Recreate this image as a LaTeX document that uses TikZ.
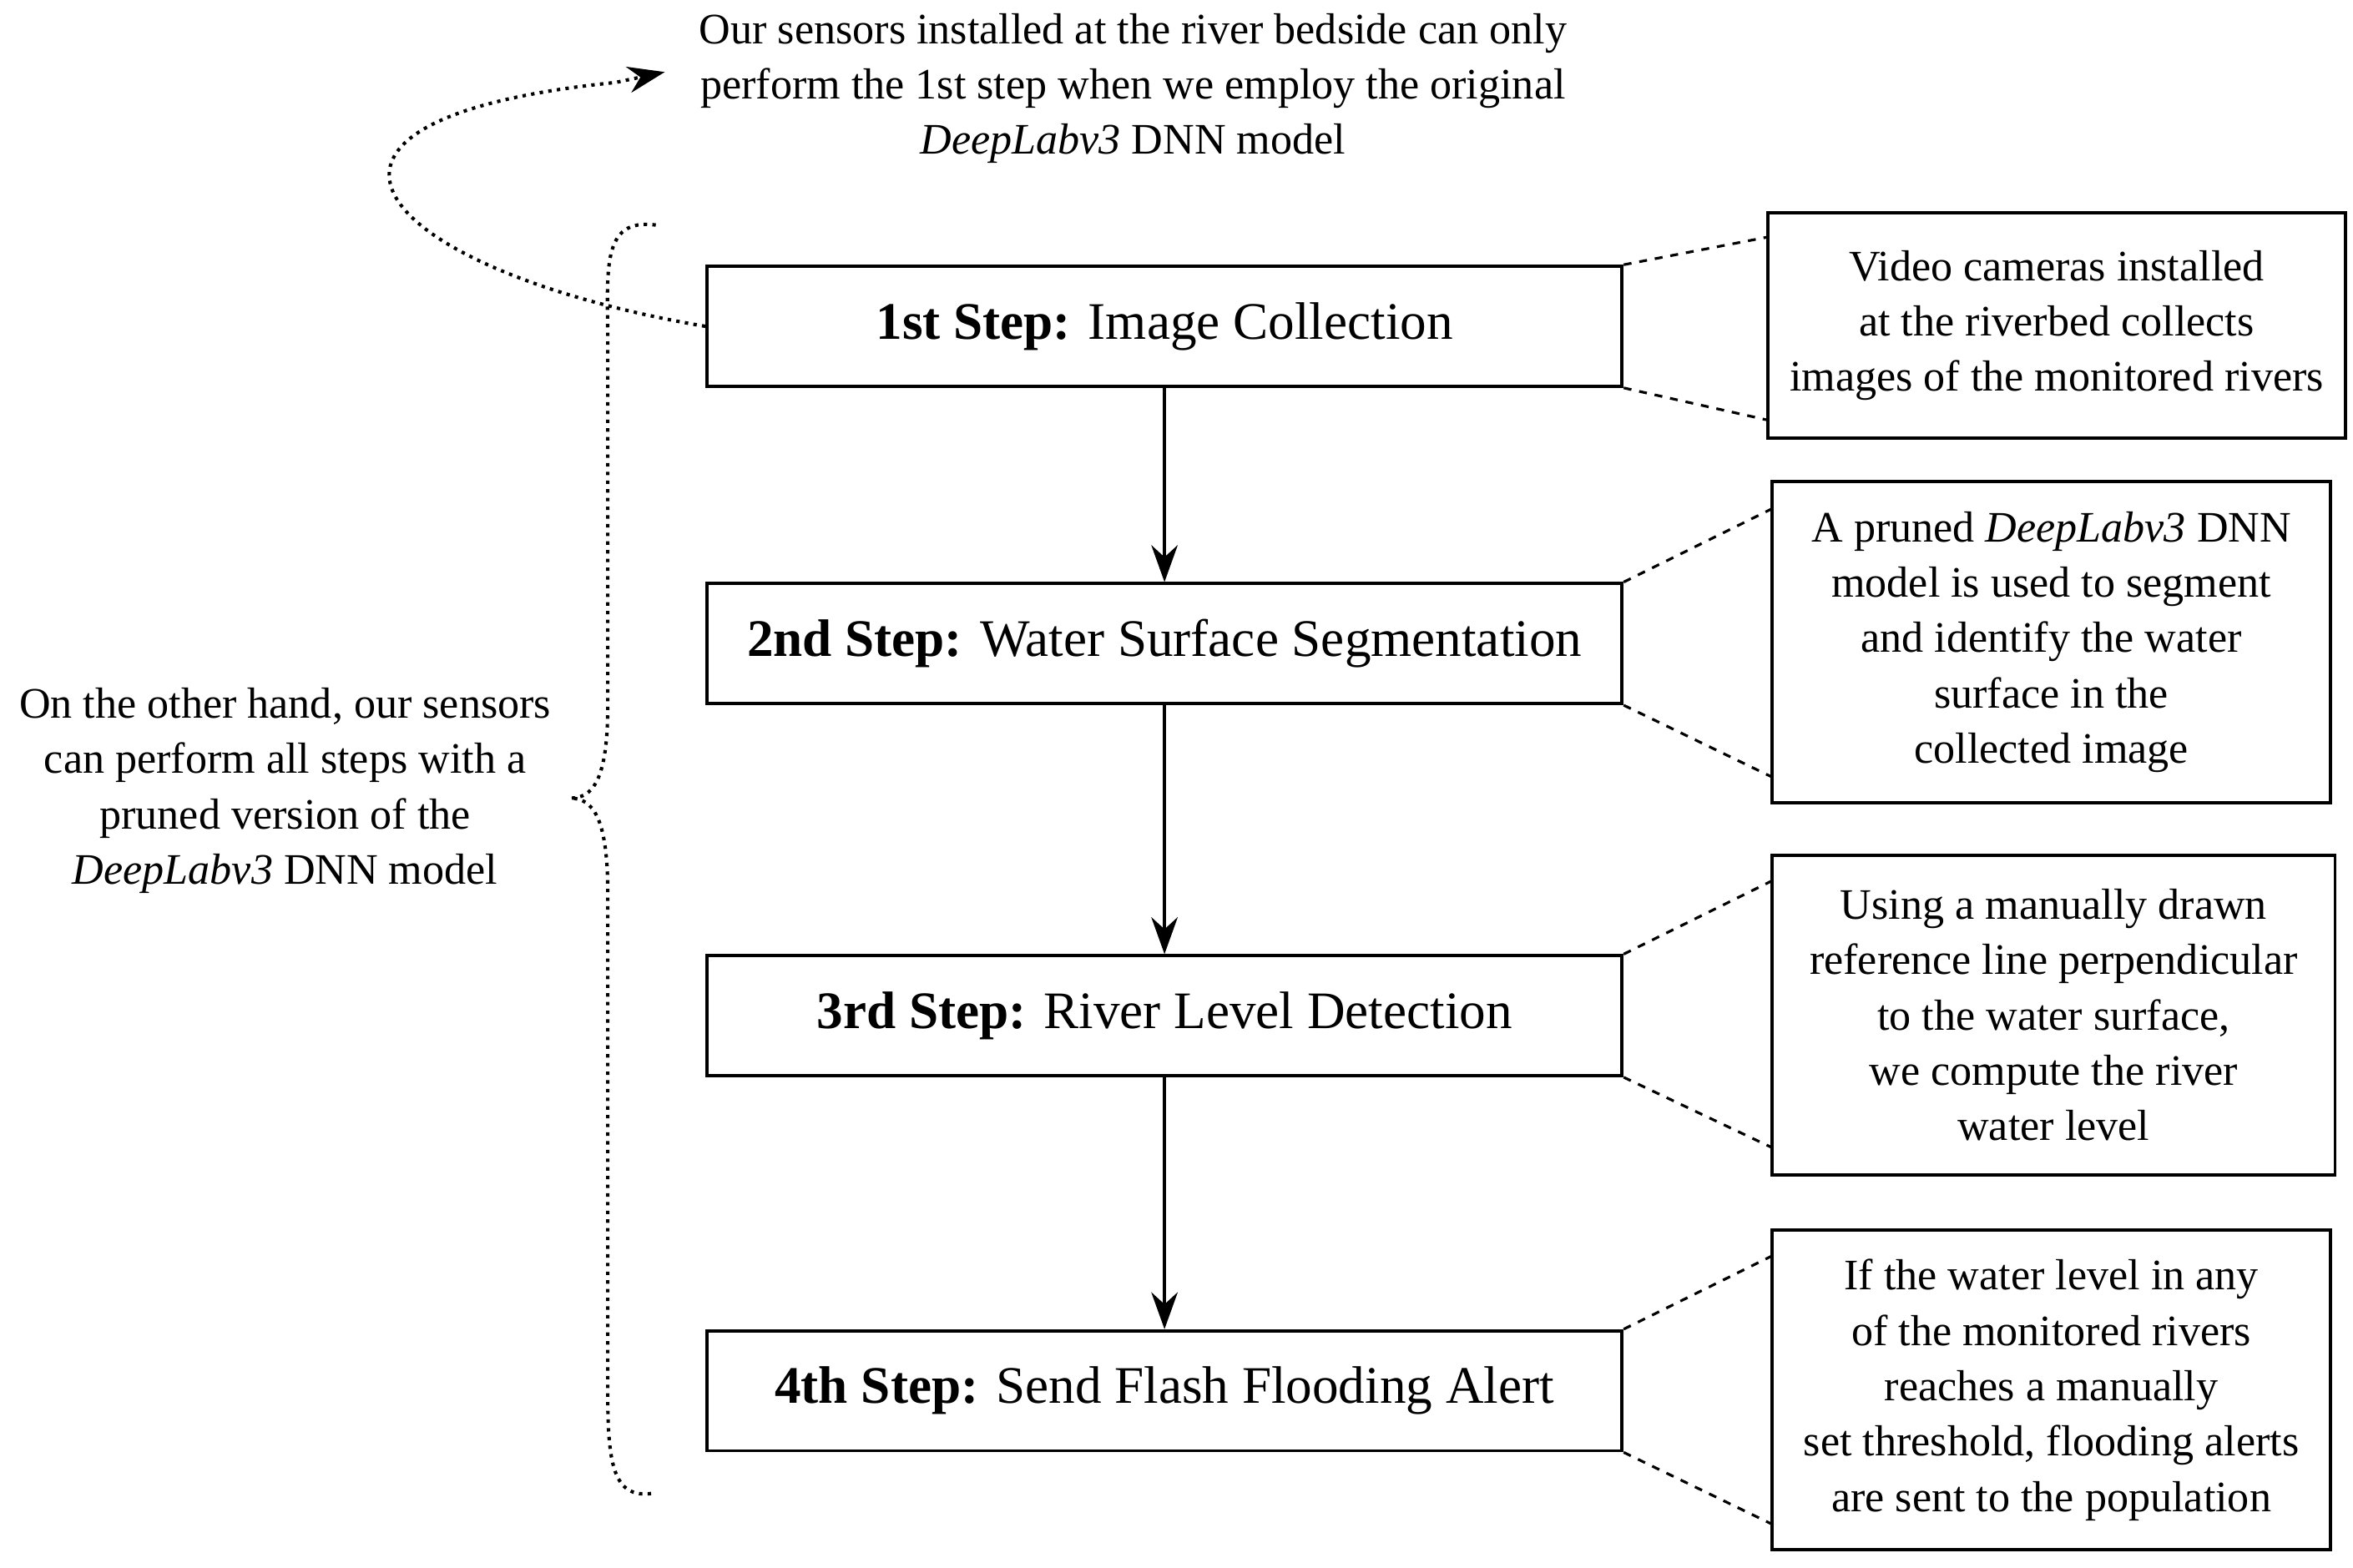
\documentclass[tikz,border=0pt]{standalone}
\usepackage{fontspec}
\setmainfont{Liberation Serif}
\usetikzlibrary{arrows.meta}
\begin{document}
\begin{tikzpicture}[x=0.02cm,y=-0.02cm,
 stepbox/.style={draw,line width=1.2pt,minimum width=12.2cm,minimum height=1.6cm,font=\fontsize{20}{24}\selectfont},
 side/.style={draw,line width=1.2pt,align=center,font=\fontsize{16.5}{21}\selectfont,inner sep=0pt},
 con/.style={dashed,line width=1pt},
 arr/.style={-{Stealth[length=14pt,width=10pt]},line width=1.2pt},
 txt/.style={align=center,font=\fontsize{16.5}{21}\selectfont}]
\useasboundingbox (0,0) rectangle (1568,1045);
\node[stepbox] (b1) at (776,217.5) {\textbf{1st Step:} Image Collection};
\node[stepbox] (b2) at (776,429) {\textbf{2nd Step:} Water Surface Segmentation};
\node[stepbox] (b3) at (776,677) {\textbf{3rd Step:} River Level Detection};
\node[stepbox] (b4) at (776,927) {\textbf{4th Step:} Send Flash Flooding Alert};
\node[side,minimum width=7.7cm,minimum height=3cm] (s1) at (1370.5,217) {Video cameras installed\\at the riverbed collects\\images of the monitored rivers};
\node[side,minimum width=7.44cm,minimum height=4.28cm] (s2) at (1367,428) {A pruned \textit{DeepLabv3} DNN\\model is used to segment\\and identify the water\\surface in the\\collected image};
\node[side,minimum width=7.5cm,minimum height=4.26cm] (s3) at (1368.5,676.5) {Using a manually drawn\\reference line perpendicular\\to the water surface,\\we compute the river\\water level};
\node[side,minimum width=7.44cm,minimum height=4.26cm] (s4) at (1367,926.5) {If the water level in any\\of the monitored rivers\\reaches a manually\\set threshold, flooding alerts\\are sent to the population};
\draw[arr] (b1) -- (b2);
\draw[arr] (b2) -- (b3);
\draw[arr] (b3) -- (b4);
\draw[con] (b1.north east) -- (1178,158);
\draw[con] (b1.south east) -- (1178,280);
\draw[con] (b2.north east) -- (1181,339);
\draw[con] (b2.south east) -- (1181,518);
\draw[con] (b3.north east) -- (1181,587);
\draw[con] (b3.south east) -- (1181,765);
\draw[con] (b4.north east) -- (1181,837);
\draw[con] (b4.south east) -- (1181,1016);
\node[txt] (top) at (755,59) {Our sensors installed at the river bedside can only\\perform the 1st step when we employ the original\\\textit{DeepLabv3} DNN model};
\node[txt] (left) at (190,527) {On the other hand, our sensors\\can perform all steps with a\\pruned version of the\\\textit{DeepLabv3} DNN model};
\coordinate (tip) at (443,48);
\draw[dotted,line width=1.3pt,-{Stealth[length=14pt,width=10pt]}] (b1.west) .. controls (250,180) and (160,80) .. (410,55) -- (tip);
\draw[dotted,line width=1.3pt] (437,150) .. controls (400,145) and (405,180) .. (405,230) -- (405,470) .. controls (405,520) and (395,532) .. (380,532) .. controls (395,532) and (405,545) .. (405,595) -- (405,930) .. controls (405,980) and (410,1000) .. (437,995);
\end{tikzpicture}
\end{document}
